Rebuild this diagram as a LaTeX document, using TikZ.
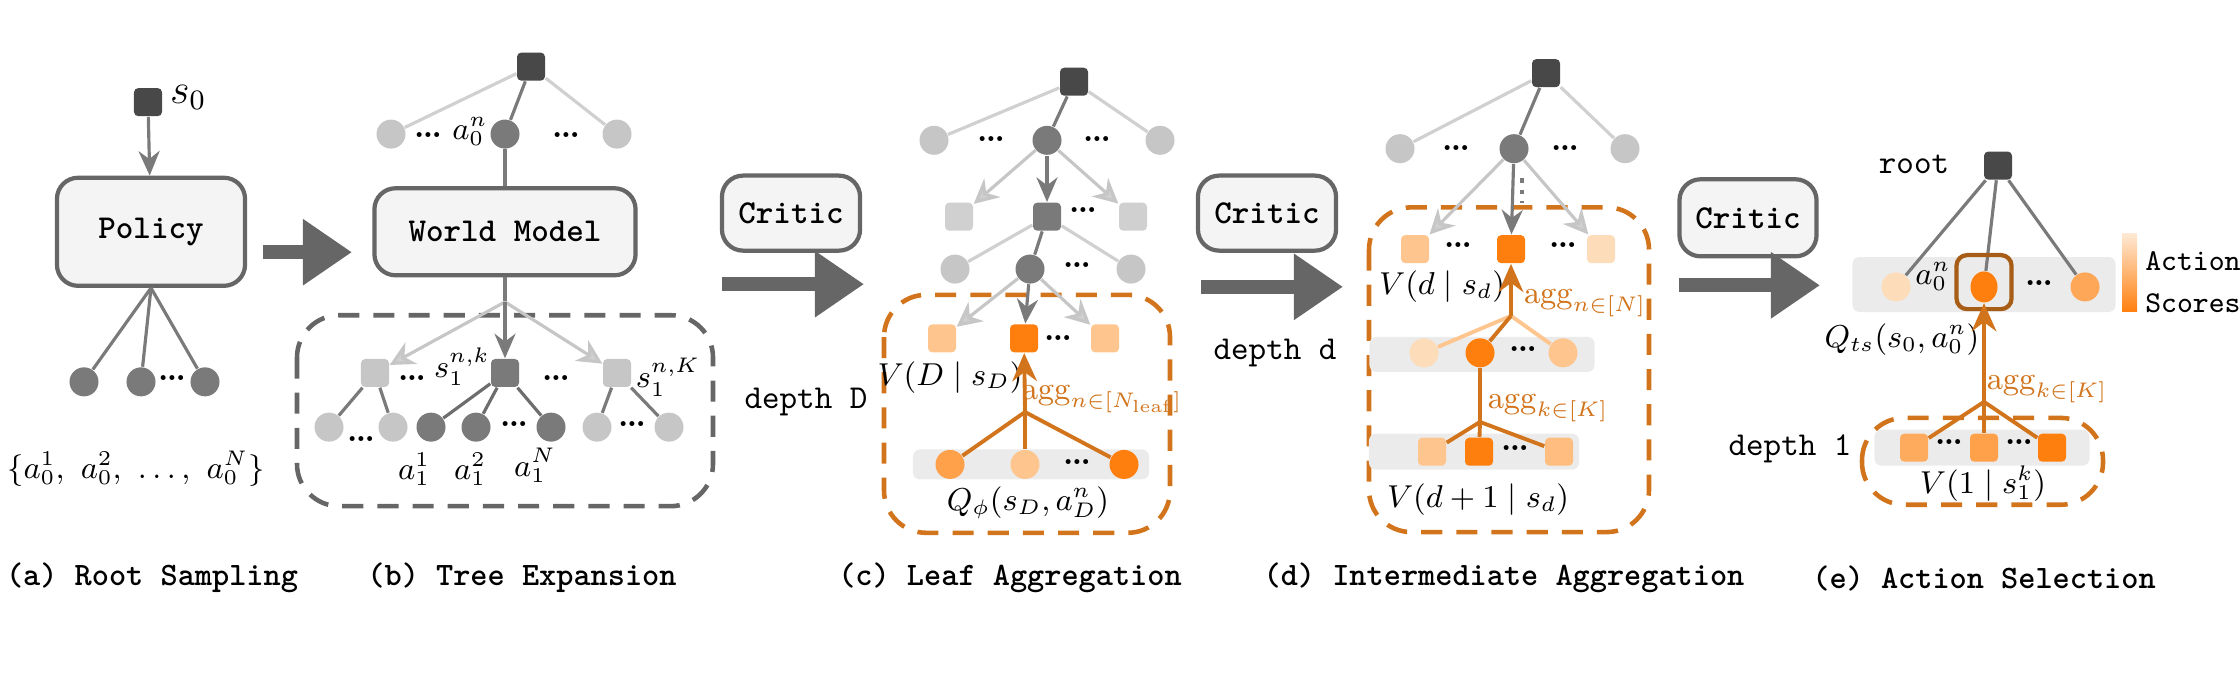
\documentclass[tikz,border=0pt]{standalone}
\usetikzlibrary{arrows.meta,shadings,shapes.geometric}
\definecolor{dk}{HTML}{484848}
\definecolor{md}{HTML}{7A7A7A}
\definecolor{lt}{HTML}{C6C6C6}
\definecolor{ln}{HTML}{D0D0D0}
\definecolor{og}{HTML}{FF7F0E}
\definecolor{om}{HTML}{FFA04A}
\definecolor{ol}{HTML}{FFC58E}
\definecolor{op}{HTML}{FDDCBA}
\definecolor{oe}{HTML}{D2741C}
\definecolor{bx}{HTML}{F4F4F4}
\definecolor{be}{HTML}{666666}
\definecolor{band}{HTML}{EBEBEB}
\begin{document}
\begin{tikzpicture}[x=0.01cm,y=-0.01cm,
  sq/.style={rectangle,rounded corners=1.2pt,minimum size=0.28cm,inner sep=0pt,fill=#1},
  ci/.style={circle,minimum size=0.29cm,inner sep=0pt,fill=#1},
  dt/.style={font=\fontseries{b}\selectfont\fontsize{9}{9}\selectfont,inner sep=0pt},
  box/.style={draw=be,line width=1.2pt,fill=bx,rounded corners=6pt,font=\ttfamily\fontseries{b}\selectfont\fontsize{9.5}{11}\selectfont},
  capt/.style={font=\ttfamily\fontseries{b}\selectfont\fontsize{9.3}{11}\selectfont},
  lab/.style={font=\fontsize{9}{11}\selectfont,inner sep=1pt},
  olab/.style={font=\fontsize{9}{11}\selectfont,text=oe,inner sep=1pt},
  big/.style={line width=4pt,draw=be,-{Triangle[length=14pt,width=18pt]}},
  gl/.style={draw=md,line width=0.9pt},
  ll/.style={draw=ln,line width=0.9pt},
  ga/.style={gl,-{Stealth[length=7pt,width=6pt]}},
  la/.style={draw=lt,line width=0.9pt,-{Stealth[length=7pt,width=7pt,open,fill=ln]}},
  oa/.style={draw=oe,line width=1.1pt},
  oar/.style={oa,-{Stealth[length=8pt,width=7pt]}},
  dbox/.style={dashed,dash pattern=on 6pt off 4pt,line width=1.3pt,rounded corners=12pt},
  bandst/.style={fill=band,rounded corners=2pt}]
\useasboundingbox (0,0) rectangle (2240,675);

\begin{scope}[yscale=0.888]
% ---------- (a)
\node[sq=dk] (a0) at (148,115) {};
\node[lab,font=\fontsize{12}{12}\selectfont,anchor=west] (as0) at (166,110) {$s_0$};
\node[box,minimum width=1.88cm,minimum height=1.08cm] (pol) at (151,261) {Policy};
\draw[ga] (a0) -- (pol);
\node[ci=md] (ac1) at (84,430) {};
\node[ci=md] (ac2) at (141,430) {};
\node[ci=md] (ac3) at (205,430) {};
\node[dt] (ad) at (172,426) {...};
\draw[gl] (pol.south) -- (ac1); \draw[gl] (pol.south) -- (ac2); \draw[gl] (pol.south) -- (ac3);
\node[lab] (aset) at (136,528) {$\{a_0^1,\ a_0^2,\ \ldots,\ a_0^N\}$};
\coordinate (ab1) at (263,284); \coordinate (ab2) at (352,284);
\draw[big] (ab1) -- (ab2);

% ---------- (b)
\node[sq=dk] (br) at (531,75) {};
\node[ci=lt] (bc1) at (391,151) {};
\node[ci=md] (bc2) at (505,151) {};
\node[ci=lt] (bc3) at (617,151) {};
\draw[ll] (br) -- (bc1); \draw[ll] (br) -- (bc3); \draw[gl] (br) -- (bc2);
\node[dt] (bd1) at (428,152) {...};
\node[lab] (ba0) at (470,148) {$a_0^n$};
\node[dt] (bd2) at (566,152) {...};
\node[box,minimum width=2.61cm,minimum height=0.87cm] (wm) at (505,261) {World Model};
\draw[gl] (bc2) -- (wm);
\draw[dbox,draw=be] (297,355) rectangle (713,570);
\coordinate (bj) at (505,340);
\node[sq=lt] (bs1) at (375,420) {};
\node[sq=md] (bs2) at (505,420) {};
\node[sq=lt] (bs3) at (617,420) {};
\draw[gl] (wm.south) -- (bj);
\draw[la] (bj) -- (bs1); \draw[la] (bj) -- (bs3); \draw[ga] (bj) -- (bs2);
\node[dt] (bd3) at (412,426) {...};
\node[lab] (bsk) at (462,413) {$s_1^{n,k}$};
\node[dt] (bd4) at (556,426) {...};
\node[lab] (bsK) at (668,425) {$s_1^{n,K}$};
\node[ci=lt] (bl1) at (329,481) {};
\node[ci=lt] (bl2) at (393,481) {};
\node[ci=md] (bl3) at (431,481) {};
\node[ci=md] (bl4) at (476,481) {};
\node[ci=md] (bl5) at (551,481) {};
\node[ci=lt] (bl6) at (597,481) {};
\node[ci=lt] (bl7) at (669,481) {};
\draw[gl] (bs1) -- (bl1); \draw[gl] (bs1) -- (bl2);
\draw[gl,draw=dk!80] (bs2) -- (bl3); \draw[gl,draw=dk!80] (bs2) -- (bl4); \draw[gl,draw=dk!80] (bs2) -- (bl5);
\draw[gl] (bs3) -- (bl6); \draw[gl] (bs3) -- (bl7);
\node[dt] (bd5) at (361,494) {...};
\node[dt] (bd6) at (514,478) {...};
\node[dt] (bd7) at (632,478) {...};
\node[lab] (ba1) at (414,528) {$a_1^1$};
\node[lab] (ba2) at (470,528) {$a_1^2$};
\node[lab] (baN) at (535,524) {$a_1^N$};

% ---------- (c)
\node[box,minimum width=1.38cm,minimum height=0.75cm] (cr1) at (791,240) {Critic};
\coordinate (cb1) at (722,320); \coordinate (cb2) at (864,320);
\draw[big] (cb1) -- (cb2);
\node[lab,font=\ttfamily\fontsize{9.5}{11}\selectfont] (cdD) at (806,453) {depth D};
\node[sq=dk] (cr) at (1074,92) {};
\node[ci=lt] (cc1) at (934,158) {};
\node[ci=md] (cc2) at (1047,158) {};
\node[ci=lt] (cc3) at (1160,158) {};
\draw[ll] (cr) -- (cc1); \draw[ll] (cr) -- (cc3); \draw[gl] (cr) -- (cc2);
\node[dt] (cd1) at (991,156) {...};
\node[dt] (cd2) at (1097,156) {...};
\node[sq=ln] (cs1) at (959,244) {};
\node[sq=md] (cs2) at (1047,244) {};
\node[sq=ln] (cs3) at (1133,244) {};
\draw[la] (cc2) -- (cs1); \draw[la] (cc2) -- (cs3); \draw[ga] (cc2) -- (cs2);
\node[dt] (cd3) at (1083,237) {...};
\node[ci=lt] (ce1) at (955,303) {};
\node[ci=md] (ce2) at (1030,303) {};
\node[ci=lt] (ce3) at (1131,303) {};
\draw[ll] (cs2) -- (ce1); \draw[ll] (cs2) -- (ce3); \draw[gl] (cs2) -- (ce2);
\node[dt] (cd4) at (1077,299) {...};
\draw[dbox,draw=oe] (884,332) rectangle (1170,600);
\node[sq=ol] (cf1) at (942,381) {};
\node[sq=og] (cf2) at (1024,381) {};
\node[sq=ol] (cf3) at (1105,381) {};
\draw[la] (ce2) -- (cf1); \draw[la] (ce2) -- (cf3); \draw[ga] (ce2) -- (cf2);
\node[dt] (cd5) at (1058,381) {...};
\node[lab] (cV) at (950,425) {$V(D\mid s_D)$};
\node[bandst,minimum width=2.36cm,minimum height=0.30cm] (cband) at (1031,523) {};
\node[ci=om] (cg1) at (950,523) {};
\node[ci=ol] (cg2) at (1025,523) {};
\node[ci=og] (cg3) at (1124,523) {};
\node[dt] (cd6) at (1077,520) {...};
\coordinate (cj) at (1025,464);
\draw[oa] (cg1) -- (cj); \draw[oa] (cg2) -- (cj); \draw[oa] (cg3) -- (cj);
\draw[oar] (cj) -- (cf2);
\node[olab] (cagg) at (1102,450) {$\mathrm{agg}_{n\in[N_{\mathrm{leaf}}]}$};
\node[lab] (cQ) at (1028,566) {$Q_\phi(s_D,a_D^n)$};

% ---------- (d) left part
\node[box,minimum width=1.38cm,minimum height=0.75cm] (cr2) at (1267,240) {Critic};
\coordinate (db1) at (1201,323); \coordinate (db2) at (1343,323);
\draw[big] (db1) -- (db2);
\node[lab,font=\ttfamily\fontsize{9.5}{11}\selectfont] (ddd) at (1275,397) {depth d};
\end{scope}

\begin{scope}[yscale=0.8037]
% ---------- (d)
\node[sq=dk] (dr) at (1546,91) {};
\node[ci=lt] (dc1) at (1400,185) {};
\node[ci=md] (dc2) at (1514,185) {};
\node[ci=lt] (dc3) at (1625,185) {};
\draw[ll] (dr) -- (dc1); \draw[ll] (dr) -- (dc3); \draw[gl] (dr) -- (dc2);
\node[dt] (dd1) at (1456,184) {...};
\node[dt] (dd2) at (1565,184) {...};
\draw[dbox,draw=oe] (1369,258) rectangle (1649,662);
\node[sq=ol] (ds1) at (1415,310) {};
\node[sq=og] (ds2) at (1511,310) {};
\node[sq=op] (ds3) at (1601,310) {};
\draw[la] (dc2) -- (ds1); \draw[la] (dc2) -- (ds3); \draw[ga] (dc2) -- (ds2);
\draw[dotted,line width=1.2pt,draw=md] (1522,222) -- (1522,252);
\node[dt] (dd3) at (1458,305) {...};
\node[dt] (dd4) at (1563,305) {...};
\node[lab] (dV) at (1442,357) {$V(d\mid s_d)$};
\node[bandst,minimum width=2.25cm,minimum height=0.35cm] (dband1) at (1482,441) {};
\node[ci=op] (dg1) at (1424,439) {};
\node[ci=og] (dg2) at (1480,439) {};
\node[ci=ol] (dg3) at (1563,439) {};
\node[dt] (dd5) at (1523,434) {...};
\coordinate (dj1) at (1511,393);
\draw[oa,draw=ol] (dg1) -- (dj1); \draw[oa,draw=ol] (dg3) -- (dj1); \draw[oa] (dg2) -- (dj1);
\draw[oar] (dj1) -- (ds2);
\node[olab] (dagg1) at (1585,377) {$\mathrm{agg}_{n\in[N]}$};
\node[bandst,minimum width=2.1cm,minimum height=0.36cm] (dband2) at (1474,562) {};
\node[sq=ol] (dh1) at (1432,562) {};
\node[sq=og] (dh2) at (1479,562) {};
\node[sq=ol!80!om] (dh3) at (1559,562) {};
\node[dt] (dd6) at (1515,557) {...};
\coordinate (dj2) at (1480,525);
\draw[oa] (dh1) -- (dj2); \draw[oa] (dh2) -- (dj2); \draw[oa] (dh3) -- (dj2);
\draw[oa] (dj2) -- (dg2);
\node[olab] (dagg2) at (1548,508) {$\mathrm{agg}_{k\in[K]}$};
\node[lab] (dV2) at (1478,622) {$V(d+1\mid s_d)$};

% ---------- (e)
\node[box,minimum width=1.37cm,minimum height=0.77cm] (cr3) at (1748,271) {Critic};
\coordinate (eb1) at (1679,355); \coordinate (eb2) at (1820,355);
\draw[big] (eb1) -- (eb2);
\node[lab,font=\ttfamily\fontsize{9.5}{11}\selectfont] (eroot) at (1914,205) {root};
\node[sq=dk] (er) at (1998,206) {};
\node[bandst,minimum width=2.63cm,minimum height=0.55cm] (eband) at (1984,354) {};
\node[ci=op] (ec1) at (1896,357) {};
\node[ellipse,fill=og,minimum width=0.27cm,minimum height=0.31cm,inner sep=0pt] (ec2) at (1984,357) {};
\node[ci=om!80!ol] (ec3) at (2085,357) {};
\draw[gl] (er) -- (ec1); \draw[gl] (er) -- (ec2); \draw[gl] (er) -- (ec3);
\node[draw=oe!80!black,line width=1.2pt,rounded corners=3pt,minimum width=0.55cm,minimum height=0.54cm] (esel) at (1984,351) {};
\node[lab] (ea0) at (1933,344) {$a_0^n$};
\node[dt] (ed1) at (2039,352) {...};
\node[lab] (eQ) at (1902,423) {$Q_{ts}(s_0,a_0^n)$};
\draw[dbox,draw=oe] (1862,520) rectangle (2103,628);
\node[bandst,minimum width=2.15cm,minimum height=0.36cm] (eband2) at (1982,557) {};
\node[sq=om!70!ol] (eh1) at (1914,557) {};
\node[sq=om] (eh2) at (1984,557) {};
\node[sq=og] (eh3) at (2052,557) {};
\node[dt] (ed2) at (1949,550) {...};
\node[dt] (ed3) at (2019,550) {...};
\coordinate (ej) at (1984,500);
\draw[oa] (eh1) -- (ej); \draw[oa] (eh2) -- (ej); \draw[oa] (eh3) -- (ej);
\draw[oar] (ej) -- (ec2);
\node[olab] (eagg) at (2047,484) {$\mathrm{agg}_{k\in[K]}$};
\node[lab,font=\ttfamily\fontsize{9.5}{11}\selectfont] (ed) at (1790,558) {depth 1};
\node[lab] (eV) at (1983,602) {$V(1\mid s_1^k)$};
\shade[top color=op!60,bottom color=og] (2122,290) rectangle (2137,388);
\node[lab,font=\ttfamily\fontsize{8.6}{11}\selectfont,anchor=west] (eact) at (2141,325) {Action};
\node[lab,font=\ttfamily\fontsize{8.6}{11}\selectfont,anchor=west] (esc) at (2141,377) {Scores};
\end{scope}

% ---------- captions
\node[capt] (capa) at (152,578) {(a) Root Sampling};
\node[capt] (capb) at (522,578) {(b) Tree Expansion};
\node[capt] (capc) at (1010,578) {(c) Leaf Aggregation};
\node[capt] (capd) at (1504,578) {(d) Intermediate Aggregation};
\node[capt] (cape) at (1984,578) {(e) Action Selection};
\end{tikzpicture}
\end{document}
